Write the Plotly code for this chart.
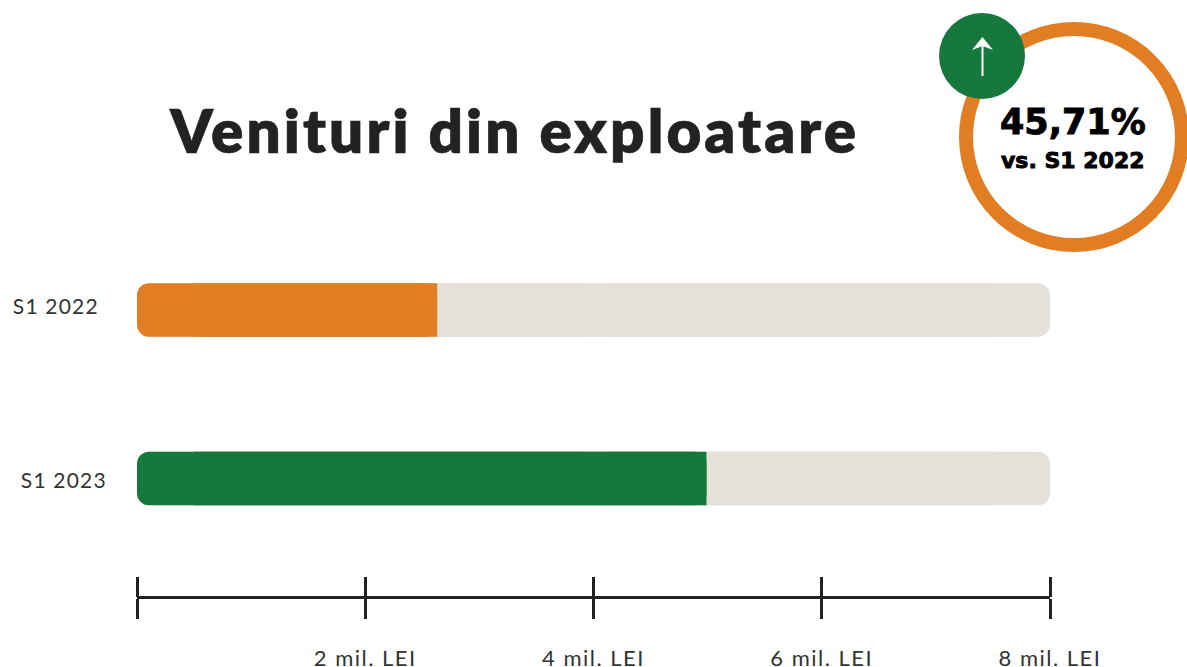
import plotly.graph_objects as go

W, H = 1187, 667
L, R = 137, 137

periods = ["S1 2022", "S1 2023"]
values = [2.63, 4.99]
axis_max = 8
bar_colors = ["#E17E23", "#17783E"]
tick_values = [0, 2, 4, 6, 8]
tick_labels = ["", "2 mil. LEI", "4 mil. LEI", "6 mil. LEI", "8 mil. LEI"]
title_text = "Venituri din exploatare"
change_text = "45,71%"
compare_text = "vs. S1 2022"

DARK = "#222222"
BODY = "Lato"
LABEL_COLOR = "#333333"
TRACK = "#E5E0DA"


def px(x):
    return (x - L) / (W - L - R)


def py(y):
    return 1 - y / H


fig = go.Figure()
bar_width = 0.3175
n = len(periods)
mid = axis_max / 2
# light track: two rounded halves, with a square piece over the inner joint
for sign in (1, -1):
    fig.add_bar(y=periods, x=[sign * mid] * n, base=[mid] * n, orientation="h", width=bar_width,
                marker=dict(color=TRACK, cornerradius=12, line_width=0), hoverinfo="skip")
fig.add_bar(y=periods, x=[axis_max - 1] * n, base=[0.5] * n, orientation="h", width=bar_width,
            marker=dict(color=TRACK, line_width=0), hoverinfo="skip")
# value bars: rounded at the left, with a square piece that gives the flat right end
fig.add_bar(y=periods, x=[-v for v in values], base=values, orientation="h", width=bar_width,
            marker=dict(color=bar_colors, cornerradius=12, line_width=0))
fig.add_bar(y=periods, x=[v - 0.5 for v in values], base=[0.5] * n, orientation="h", width=bar_width,
            marker=dict(color=bar_colors, line_width=0), hoverinfo="skip")
# second axis: carries the upward half of the ticks
fig.add_scatter(x=[0], y=[periods[0]], xaxis="x2", mode="markers", marker=dict(opacity=0),
                hoverinfo="skip", showlegend=False)

axis_pos = py(597)
common = dict(range=[0, axis_max], tickmode="array", tickvals=tick_values, ticklen=20, tickwidth=3,
              tickcolor=DARK, showgrid=False, zeroline=False, anchor="free", position=axis_pos, ticks="outside")
fig.update_layout(
    width=W, height=H, paper_bgcolor="white", plot_bgcolor="white",
    showlegend=False, barmode="overlay",
    margin=dict(l=L, r=R, t=0, b=0, autoexpand=False),
    xaxis=dict(**common, ticktext=tick_labels, showline=True, linewidth=3, linecolor=DARK,
               side="bottom", ticklabelstandoff=21,
               tickfont=dict(family=BODY, size=22, color=LABEL_COLOR)),
    xaxis2=dict(**common, showticklabels=False, overlaying="x", side="top"),
    yaxis=dict(range=[2.119, -1.84], visible=False, type="category", categoryorder="array",
               categoryarray=periods, domain=[0, 1]),
)

# y labels
for name, cx, shift in zip(periods, [56, 64], [5, -1]):
    fig.add_annotation(x=px(cx), xref="paper", y=name, yref="y", yshift=shift, text=name, showarrow=False,
                       xanchor="center", yanchor="middle",
                       font=dict(family=BODY, size=21, color=LABEL_COLOR))

# title
fig.add_annotation(x=px(514), y=py(130), xref="paper", yref="paper", text=title_text, showarrow=False,
                   xanchor="center", yanchor="middle",
                   font=dict(family="Lato", size=60, color=DARK, weight=800))


def circle(cx, cy, r, **kw):
    fig.add_shape(type="circle", xref="paper", yref="paper", x0=px(cx - r), x1=px(cx + r),
                  y0=py(cy + r), y1=py(cy - r), **kw)


circle(1074, 137, 108, line=dict(color="#E17E23", width=14), fillcolor="white")
circle(982, 56, 43, line=dict(width=0), fillcolor="#17783E")
# arrow glyph
fig.add_shape(type="line", xref="paper", yref="paper", x0=px(982.5), x1=px(982.5), y0=py(76), y1=py(40),
              line=dict(color="white", width=2))
fig.add_shape(type="path", xref="paper", yref="paper", fillcolor="white", line_width=0,
              path=f"M {px(982.5)} {py(37)} L {px(993)} {py(50)} L {px(982.5)} {py(46)} L {px(972)} {py(50)} Z")

fig.add_annotation(x=px(1073), y=py(122), xref="paper", yref="paper", text=change_text, showarrow=False,
                   xanchor="center", yanchor="middle",
                   font=dict(family="DejaVu Sans", size=35, color="black", weight=700))
fig.add_annotation(x=px(1073), y=py(160), xref="paper", yref="paper", text=compare_text, showarrow=False,
                   xanchor="center", yanchor="middle",
                   font=dict(family="DejaVu Sans", size=22, color="black", weight=700))

post = """
document.body.style.margin = '0';
document.querySelectorAll('.annotation-text, .xtick text').forEach(function (t) {
  var s = t.textContent;
  if (s.indexOf('Venituri') === 0) {
    t.style.letterSpacing = '3.1px'; t.style.stroke = '#222222'; t.style.strokeWidth = '0.6px';
  } else if (s.indexOf('S1 20') === 0) {
    t.style.letterSpacing = '1.2px';
  } else if (s.indexOf('mil.') > 0) {
    t.style.letterSpacing = '1.5px';
  } else if (s.indexOf('45') === 0 || s.indexOf('vs') === 0) {
    t.style.stroke = 'black'; t.style.strokeWidth = '0.9px';
  }
});
"""
fig.write_html("out.html", post_script=post, config={"displayModeBar": False})
